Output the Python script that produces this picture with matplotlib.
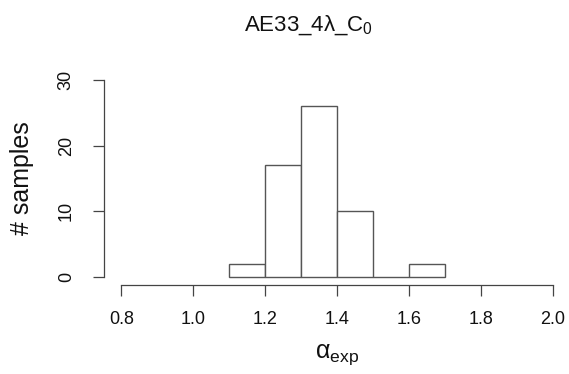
import matplotlib
matplotlib.use("Agg")
import matplotlib.pyplot as plt

plt.rcParams['font.family'] = ['Liberation Sans', 'DejaVu Sans']
plt.rcParams['mathtext.fontset'] = 'custom'
plt.rcParams['mathtext.rm'] = 'Liberation Sans'
plt.rcParams['mathtext.it'] = 'Liberation Sans:italic'
plt.rcParams['mathtext.bf'] = 'Liberation Sans:bold'

bin_edges = [1.1, 1.2, 1.3, 1.4, 1.5, 1.6, 1.7]
counts = [2, 17, 26, 10, 0, 2]
x_ticks = [0.8, 1.0, 1.2, 1.4, 1.6, 1.8, 2.0]
x_ticklabels = ["0.8", "1.0", "1.2", "1.4", "1.6", "1.8", "2.0"]
y_ticks = [0, 10, 20, 30]
title = "AE33_4λ_C$_0$"
xlabel = r"α$_{\mathrm{exp}}$"
ylabel = "# samples"

W, H = 569, 374
fig = plt.figure(figsize=(W / 100, H / 100), dpi=100)
ax = fig.add_axes([104 / W, 1 - 285 / H, (570 - 104) / W, (285 - 72) / H])

lefts = bin_edges[:-1]
widths = [b - a for a, b in zip(bin_edges[:-1], bin_edges[1:])]
ax.bar(lefts, counts, width=widths, align='edge', facecolor='white',
       edgecolor='#555555', linewidth=1.0)

ax.set_xlim(0.8 - 0.048, 2.0 + 0.048)
ax.set_ylim(-1.2, 31.2)
for s in ['top', 'right']:
    ax.spines[s].set_visible(False)
ax.spines['left'].set_bounds(0, 30)
ax.spines['bottom'].set_bounds(0.8, 2.0)
for s in ['left', 'bottom']:
    ax.spines[s].set_color('#444444')
    ax.spines[s].set_linewidth(0.9)

ax.set_xticks(x_ticks)
ax.set_xticklabels(x_ticklabels)
ax.set_yticks(y_ticks)
ax.set_yticklabels([str(v) for v in y_ticks], rotation=90, va='center')
ax.tick_params(axis='both', length=8, width=0.9, color='#444444',
               labelsize=13, labelcolor='#111111')
ax.tick_params(axis='x', pad=11)
ax.tick_params(axis='y', pad=13)

fig.text(309 / W, 1 - 25 / H, title, ha='center', va='center', fontsize=16,
         color='#111111')
fig.text(337 / W, 1 - 355 / H, xlabel, ha='center', va='center', fontsize=18,
         color='#111111')
fig.text(22 / W, 1 - 178 / H, ylabel, ha='center', va='center', fontsize=18,
         rotation=90, color='#111111')

fig.savefig("out.png", dpi=100)
